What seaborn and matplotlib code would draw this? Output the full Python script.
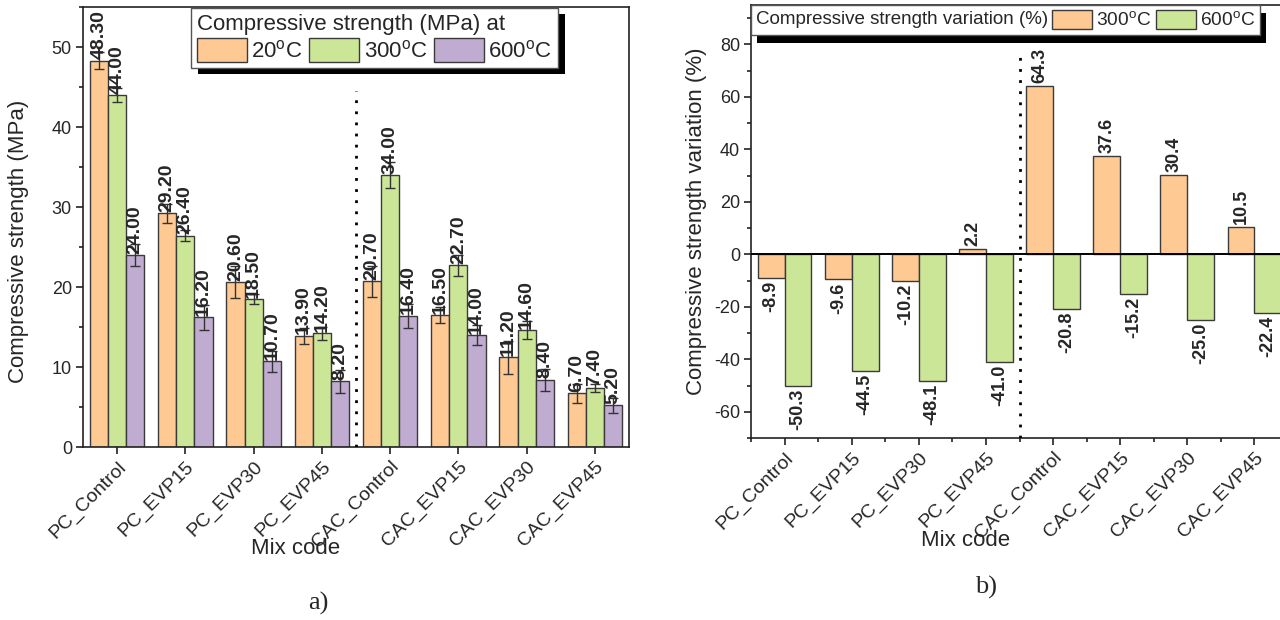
import numpy as np
import pandas as pd
import matplotlib
matplotlib.use("Agg")
import matplotlib.pyplot as plt
import seaborn as sns
from matplotlib.patches import Patch, Rectangle
from matplotlib.transforms import IdentityTransform
from matplotlib.offsetbox import HPacker
from matplotlib.ticker import MultipleLocator

# ---- data -------------------------------------------------------------
mixes = ["PC_Control", "PC_EVP15", "PC_EVP30", "PC_EVP45",
         "CAC_Control", "CAC_EVP15", "CAC_EVP30", "CAC_EVP45"]
temps_a = ["20", "300", "600"]
temps_b = ["300", "600"]

strength_20 = [48.30, 29.20, 20.60, 13.90, 20.70, 16.50, 11.20, 6.70]
strength_300 = [44.00, 26.40, 18.50, 14.20, 34.00, 22.70, 14.60, 7.40]
strength_600 = [24.00, 16.20, 10.70, 8.20, 16.40, 14.00, 8.40, 5.20]

err_20 = [1.1, 1.2, 2.0, 1.0, 1.9, 1.0, 2.1, 1.2]
err_300 = [0.9, 0.7, 0.6, 0.8, 1.6, 1.3, 1.1, 0.5]
err_600 = [1.4, 1.6, 1.3, 1.4, 1.5, 1.3, 1.4, 0.9]

variation_300 = [-8.9, -9.6, -10.2, 2.2, 64.3, 37.6, 30.4, 10.5]
variation_600 = [-50.3, -44.5, -48.1, -41.0, -20.8, -15.2, -25.0, -22.4]

# ---- style ------------------------------------------------------------
sns.set_style("ticks")
plt.rcParams["font.family"] = ["Liberation Sans", "DejaVu Sans"]
plt.rcParams["axes.linewidth"] = 1.2
plt.rcParams["axes.edgecolor"] = "#222222"
plt.rcParams["axes.unicode_minus"] = False

colors = {"20": "#FFC993", "300": "#CCE698", "600": "#BFACD0"}
edge = "#3a3a3a"
pal_a = [colors[t] for t in temps_a]
pal_b = [colors[t] for t in ["20", "300"]]  # variation bars reuse peach / green


def deg_label(t):
    return f"{t}$^\\mathregular{{o}}$C"


df_a = pd.DataFrame({
    "mix": mixes * 3,
    "temp": np.repeat(temps_a, len(mixes)),
    "value": strength_20 + strength_300 + strength_600,
    "err": err_20 + err_300 + err_600,
})
df_b = pd.DataFrame({
    "mix": mixes * 2,
    "temp": np.repeat(temps_b, len(mixes)),
    "value": variation_300 + variation_600,
})

fig = plt.figure(figsize=(12.8, 6.2), dpi=100)
ax1 = fig.add_axes([83 / 1280, 1 - 447 / 620, 546 / 1280, 440 / 620])
ax2 = fig.add_axes([751 / 1280, 1 - 438 / 620, 537 / 1280, 433 / 620])

# ---- a) compressive strength -----------------------------------------
sns.barplot(data=df_a, x="mix", y="value", hue="temp", order=mixes,
            hue_order=temps_a, palette=pal_a, errorbar=None, width=0.8,
            gap=0, saturation=1, edgecolor=edge, linewidth=1.0,
            legend=False, ax=ax1, zorder=2)

for cont, t in zip(ax1.containers, temps_a):
    sub = df_a[df_a["temp"] == t]
    xs = [p.get_x() + p.get_width() / 2 for p in cont]
    hs = [p.get_height() for p in cont]
    ax1.errorbar(xs, hs, yerr=sub["err"].values, fmt="none",
                 ecolor="#333333", elinewidth=1.0, capsize=3.5,
                 capthick=1.0, zorder=3)
    ax1.bar_label(cont, labels=[f"{v:.2f}" for v in sub["value"]],
                  rotation=90, padding=1, fontsize=14, fontweight="bold")

ax1.set_xlim(-0.5, len(mixes) - 0.5)
ax1.set_ylim(0, 55)
ax1.yaxis.set_major_locator(MultipleLocator(10))
ax1.yaxis.set_minor_locator(MultipleLocator(5))
ax1.axvline(len(mixes) / 2 - 0.5, ymax=0.81, color="black", lw=2,
            ls=(0, (1, 3)), zorder=4)

ax1.set_xlabel("Mix code", fontsize=16)
ax1.set_ylabel("Compressive strength (MPa)", fontsize=16)
ax1.xaxis.set_label_coords(0.39, -0.207)
ax1.yaxis.set_label_coords(-0.099, 0.468)

leg1 = ax1.legend(
    [Patch(facecolor=c, edgecolor=edge, linewidth=1) for c in pal_a],
    [deg_label(t) for t in temps_a],
    title="Compressive strength (MPa) at", ncol=3, loc="upper left",
    bbox_to_anchor=(0.196, 1.0), borderaxespad=0.05, fontsize=16,
    title_fontsize=16, alignment="left", handlelength=2.25,
    handleheight=1.25, handletextpad=0.2, columnspacing=0.3,
    borderpad=0.25, labelspacing=0.15, fancybox=False, framealpha=1,
    edgecolor="#555555")

# ---- b) strength variation -------------------------------------------
sns.barplot(data=df_b, x="mix", y="value", hue="temp", order=mixes,
            hue_order=temps_b, palette=pal_b, errorbar=None, width=0.8,
            gap=0, saturation=1, edgecolor=edge, linewidth=1.0,
            legend=False, ax=ax2, zorder=2)

for cont, t in zip(ax2.containers, temps_b):
    sub = df_b[df_b["temp"] == t]
    ax2.bar_label(cont, labels=[f"{v:.1f}" for v in sub["value"]],
                  rotation=90, padding=2, fontsize=13, fontweight="bold")

ax2.set_xlim(-0.5, len(mixes) - 0.5)
ax2.set_ylim(-70, 95)
ax2.set_yticks(np.arange(-60, 81, 20))
ax2.yaxis.set_minor_locator(MultipleLocator(10))
ax2.xaxis.set_minor_locator(MultipleLocator(1, offset=0.5))
ax2.axhline(0, color="black", lw=1.4, zorder=3)
ax2.axvline(len(mixes) / 2 - 0.5, ymax=0.895, color="black", lw=2,
            ls=(0, (1, 3)), zorder=4)

ax2.set_xlabel("Mix code", fontsize=16)
ax2.set_ylabel("Compressive strength variation (%)", fontsize=16)
ax2.xaxis.set_label_coords(0.40, -0.212)
ax2.yaxis.set_label_coords(-0.082, 0.5)

leg2 = ax2.legend(
    [Patch(facecolor=c, edgecolor=edge, linewidth=1) for c in pal_b],
    [deg_label(t) for t in temps_b],
    title="Compressive strength variation (%)", ncol=2, loc="upper left",
    bbox_to_anchor=(0.0, 1.0), borderaxespad=0.0, fontsize=13.8,
    title_fontsize=13.5, handlelength=2.1, handleheight=1.15,
    handletextpad=0.2, columnspacing=0.25, borderpad=0.25,
    fancybox=False, framealpha=1, edgecolor="#555555")

# place the legend title on the same row as its entries
_old = leg2._legend_box
_row = HPacker(pad=_old.pad, sep=3, align="center",
               children=[leg2._legend_title_box, leg2._legend_handle_box])
_row.set_figure(fig)
_row.axes = ax2
_row.set_offset(leg2._findoffset)
leg2._legend_box = _row

# ---- shared tick styling ---------------------------------------------
for ax in (ax1, ax2):
    ax.set_xticks(range(len(mixes)))
    ax.set_xticklabels(mixes, rotation=45, ha="right", va="top",
                       rotation_mode="anchor", fontsize=14)
    ax.tick_params(axis="both", which="major", direction="out", length=5,
                   width=1.2, color="#222222", pad=3)
    ax.tick_params(axis="both", which="minor", direction="out", length=3,
                   width=1.2, color="#222222")
    ax.tick_params(axis="y", labelsize=13)
    for s in ax.spines.values():
        s.set_visible(True)
        s.set_linewidth(1.2)
ax1.tick_params(axis="x", which="minor", length=0)

fig.text(318 / 1280, 1 - 603 / 620, "a)", ha="center", va="center",
         fontsize=19, family="Liberation Serif")
fig.text(986 / 1280, 1 - 587 / 620, "b)", ha="center", va="center",
         fontsize=19, family="Liberation Serif")

# solid drop shadows behind both legend boxes
fig.canvas.draw()
for ax, leg, dx, dy in ((ax1, leg1, 7, 6), (ax2, leg2, 6, 8)):
    bb = leg.get_frame().get_window_extent()
    shadow = Rectangle((bb.x0 + dx, bb.y0 - dy), bb.width, bb.height,
                       transform=IdentityTransform(), facecolor="black",
                       edgecolor="none", zorder=leg.get_zorder() - 0.5,
                       clip_on=False)
    ax.add_artist(shadow)

fig.savefig("out.png", dpi=100)
